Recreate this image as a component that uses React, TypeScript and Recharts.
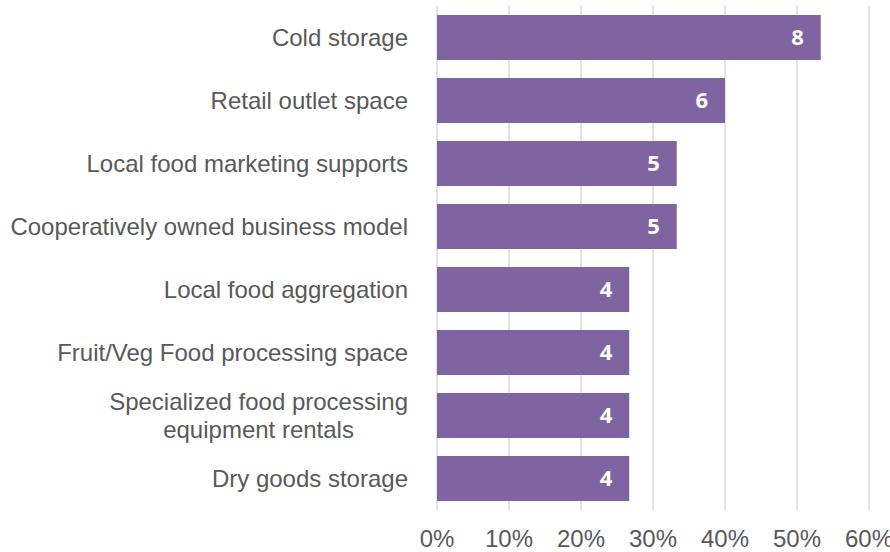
import React from "react";
import { BarChart, Bar, XAxis, YAxis, CartesianGrid, LabelList } from "recharts";

const categories = [
  "Cold storage",
  "Retail outlet space",
  "Local food marketing supports",
  "Cooperatively owned business model",
  "Local food aggregation",
  "Fruit/Veg Food processing space",
  "Specialized food processing\nequipment rentals",
  "Dry goods storage",
];
const percents = [53.3, 40, 33.3, 33.3, 26.7, 26.7, 26.7, 26.7];
const counts = [8, 6, 5, 5, 4, 4, 4, 4];
const xTicks = [0, 10, 20, 30, 40, 50, 60];

const data = categories.map((name, i) => ({ name, pct: percents[i], count: counts[i] }));

const FONT = "'Liberation Sans', Arial, sans-serif";
const TEXT_COLOR = "#595959";
const FS = 24;

let ctx: CanvasRenderingContext2D | null = null;
function measure(t: string): number {
  if (!ctx) {
    const c = document.createElement("canvas");
    ctx = c.getContext("2d");
  }
  if (!ctx) return t.length * FS * 0.5;
  ctx.font = `${FS}px 'Liberation Sans'`;
  return ctx.measureText(t).width;
}

const YTick = (props: any) => {
  const { x, y, payload } = props;
  const lines: string[] = String(payload.value).split("\n");
  const lh = 28;
  if (lines.length === 1) {
    return (
      <text x={x} y={y} dy="0.355em" textAnchor="end" fill={TEXT_COLOR} fontSize={FS} fontFamily={FONT}>
        {lines[0]}
      </text>
    );
  }
  const maxW = Math.max(...lines.map(measure));
  const cx = x - maxW / 2;
  const start = y - ((lines.length - 1) * lh) / 2;
  return (
    <g>
      {lines.map((l, i) => (
        <text key={i} x={cx} y={start + i * lh} dy="0.355em" textAnchor="middle" fill={TEXT_COLOR} fontSize={FS} fontFamily={FONT}>
          {l}
        </text>
      ))}
    </g>
  );
};

const BarLabel = (props: any) => {
  const { x, y, width, height, value } = props;
  return (
    <text
      x={x + width - 17}
      y={y + height / 2}
      dy="0.36em"
      textAnchor="end"
      fill="#ffffff"
      fontSize={22}
      fontWeight={700}
      fontFamily="'Open Sans', sans-serif"
    >
      {value}
    </text>
  );
};

export default function App() {
  return (
    <div style={{ position: "absolute", left: 0, top: 0, width: 890, height: 552, background: "#fff" }}>
      <BarChart
        width={890}
        height={552}
        data={data}
        layout="vertical"
        margin={{ top: 6, right: 21, bottom: 0, left: 0 }}
        barCategoryGap={9}
      >
        <CartesianGrid horizontal={false} vertical={true} stroke="#d9d9d9" strokeWidth={1.5} />
        <XAxis
          type="number"
          domain={[0, 60]}
          ticks={xTicks}
          tickFormatter={(v: number) => `${v}%`}
          axisLine={false}
          tickLine={false}
          height={42}
          tickMargin={14}
          tick={{ fill: TEXT_COLOR, fontSize: FS, fontFamily: FONT }}
          interval={0}
        />
        <YAxis
          type="category"
          dataKey="name"
          width={437}
          axisLine={false}
          tickLine={false}
          tickMargin={23}
          tick={<YTick />}
          interval={0}
        />
        <Bar dataKey="pct" fill="#8064a2" barSize={45} isAnimationActive={false}>
          <LabelList dataKey="count" content={<BarLabel />} />
        </Bar>
      </BarChart>
    </div>
  );
}
